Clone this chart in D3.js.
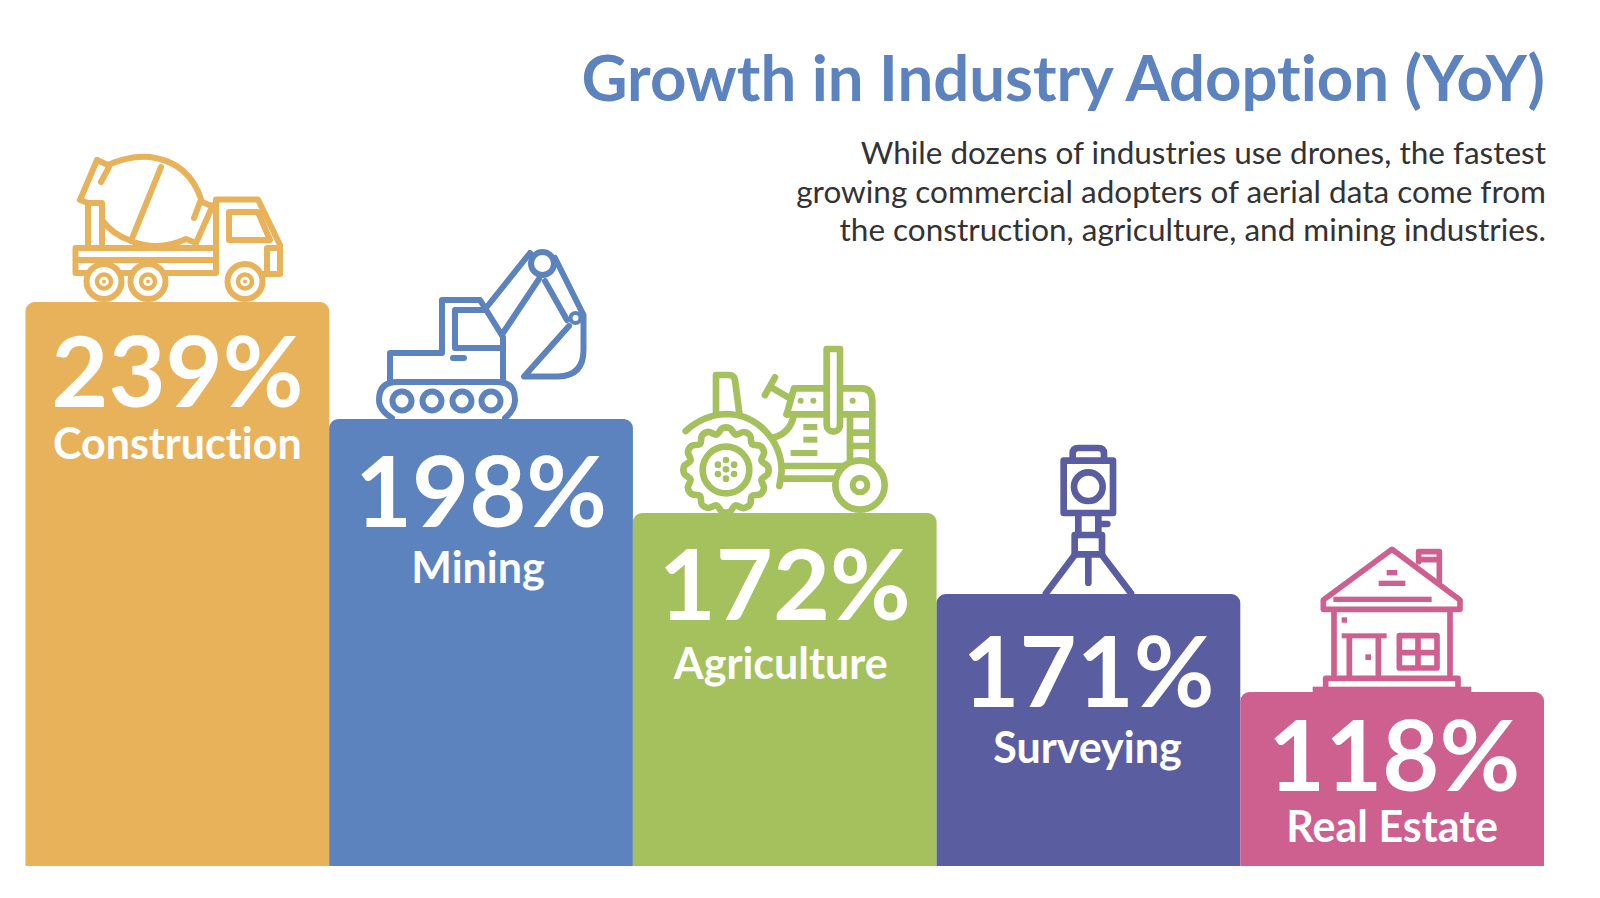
<!DOCTYPE html>
<html>
<head>
<meta charset="utf-8">
<script src="https://cdn.jsdelivr.net/npm/d3@7"></script>
<style>
  html, body { margin: 0; padding: 0; background: #fff; }
  svg { display: block; font-family: Lato, sans-serif; font-variant-ligatures: none; }
</style>
</head>
<body>
<svg id="chart" width="1600" height="898"></svg>
<script>
'use strict';

var categories = ['Construction', 'Mining', 'Agriculture', 'Surveying', 'Real Estate'];
var growth = [239, 198, 172, 171, 118];
var colors = ['#e8b25b', '#5c83bd', '#a4c15d', '#5a5ea0', '#ce6090'];
var titleText = 'Growth in Industry Adoption (YoY)';
var blurb = [
  'While dozens of industries use drones, the fastest',
  'growing commercial adopters of aerial data come from',
  'the construction, agriculture, and mining industries.'
];

var svg = d3.select('#chart');
var baseY = 866;

var x = d3.scaleBand().domain(categories).range([25.500, 1544]);

// the steps in the original are not proportional to the numbers, so the scale is piecewise
var y = d3.scaleLinear().domain(growth).range([302, 419, 513, 594, 692]);

// text offsets from each bar, as laid out in the original
var valueDrop = [105, 108, 107, 113, 99];
var labelDrop = [157, 164, 166, 169, 150];
var valueShift = [0, 0, 0, 0, 2];
var labelShift = [0, -3, -4, -1, 0];

function topRounded(x0, y0, w, h, r) {
  var p = d3.path();
  p.moveTo(x0, y0 + h);
  p.lineTo(x0, y0 + r);
  p.arcTo(x0, y0, x0 + r, y0, r);
  p.lineTo(x0 + w - r, y0);
  p.arcTo(x0 + w, y0, x0 + w, y0 + r, r);
  p.lineTo(x0 + w, y0 + h);
  p.closePath();
  return p.toString();
}

// icons: each one is drawn in its own units and hung off the top of its bar
var icons = {
  Construction: function(g) {
    g.attr('stroke-width', 6);
    line(g, 'M97 160 L108 165 Q130 155 150 157 Q190 162 202 202 L214 207');
    line(g, 'M97 160 L80 200 L88 203 L102 203 L102 220 Q112 234 131 241 Q158 252 186 239 L196 243 L213 205');
    line(g, 'M161 167 L131 241');
    line(g, 'M109 167 L101 182 M200 202 L194 218');
    line(g, 'M88 203 L88 247 M102 220 L102 247');
    line(g, 'M216 248 L75.500 248 L75.500 273 L216 273 M75.500 260 L216 260');
    line(g, 'M216 272 L216 199.500 L258 199.500 L280 245 L280 274 L262 274');
    line(g, 'M229 212 L258 212 L270 240 L229 240 Z');
    line(g, 'M280 248 L267 248 L267 272');
    [104, 148, 245].forEach(function(cx) {
      circle(g, cx, 281.500, 17.500, 6, '#fff');
      circle(g, cx, 281.500, 7, 4.500, '#fff');
      dot(g, cx, 281.500, 2);
    });
  },
  Mining: function(g) {
    g.attr('stroke-width', 6);
    line(g, 'M390 382 L390 353 L442 353 L442 300 L480 300 L503 337 L503 382');
    line(g, 'M503 348 L455 348 L455 310 L486 310');
    g.append('path').attr('d', 'M453 358 L464 358').attr('fill', 'none').attr('stroke-width', 6);
    line(g, 'M486 308 L530 253 M503 333 L539 279');
    line(g, 'M555 258 L583.500 315 L583.500 350 Q583.500 376 558 376.500 L524 376.500 L569 326');
    line(g, 'M545 281 L567 320');
    circle(g, 542.500, 263.500, 11.500, 6, '#fff');
    circle(g, 575.500, 318, 5, 4, '#fff');
    line(g, 'M392 418 Q379 410 379 400 Q379 382 397 382 L497 382 Q515 382 515 400 Q515 410 505 418');
    [402, 432, 462, 491].forEach(function(cx) { circle(g, cx, 401, 9.500, 6, '#fff'); });
  },
  Agriculture: function(g) {
    g.attr('stroke-width', 20);
    line(g, 'M228 250 L228 135 L268 135 Q282 135 285 150 L298 250');
    line(g, 'M137 303 Q190 255 258 252 C350 252 425 330 425 425 L418 468');
    line(g, 'M375 195 L405 142 M390 170 L450 205');
    line(g, 'M440 253 L462 175 L665 175 Q697 175 697 215 L697 395');
    line(g, 'M440 253 L697 253 M462 255 Q450 310 402 322');
    line(g, 'M630 255 L630 385 M632 308 L688 308 M632 348 L688 348');
    line(g, 'M430 408 L615 408 M430 446 L585 446');
    g.append('path').attr('fill', '#fff')
      .attr('d', 'M560 57 L600 57 L600 285 A20 20 0 0 1 560 285 Z').attr('stroke-linejoin', 'round');
    var vents = [[490, 282, 42], [490, 320, 42], [452, 360, 80]];
    vents.forEach(function(v) {
      g.append('rect').attr('x', v[0]).attr('y', v[1]).attr('width', v[2]).attr('height', 18)
        .attr('fill', 'currentColor').attr('stroke', 'none');
    });
    [[482, 212], [520, 212], [638, 212]].forEach(function(c) {
      dot(g, c[0], c[1], 9);
    });
    // tyre with lugs, 12 scallops round the hub
    var teeth = d3.range(36).map(function(i) {
      var k = i % 3;
      return [i * Math.PI * 2 / 36 + 0.09, k === 1 ? 110 : 126];
    });
    g.append('path')
      .attr('transform', 'translate(258,420)')
      .attr('fill', '#fff')
      .attr('d', d3.lineRadial().curve(d3.curveCatmullRomClosed.alpha(0.5))(teeth));
    circle(g, 258, 420, 70, 20, '#fff');
    dot(g, 258, 418, 10);
    d3.range(6).forEach(function(i) {
      var a = i * Math.PI / 3 + Math.PI / 2;
      dot(g, 258 + 28 * Math.cos(a), 418 + 28 * Math.sin(a), 10);
    });
    circle(g, 660, 465, 74, 20, '#fff');
    circle(g, 660, 465, 22, 18, '#fff');
  },
  Surveying: function(g) {
    g.attr('stroke-width', 20);
    line(g, 'M218 85 L218 70 Q218 54 235 54 L295 54 Q312 54 312 70 L312 85');
    line(g, 'M191 92 L339 92 L339 249 L191 249 Z');
    circle(g, 265, 170, 43, 20, 'none');
    line(g, 'M235 250 L235 315 M295 250 L295 315 M300 282 L322 282');
    line(g, 'M224 315 L306 315 L306 373 L224 373 Z');
    line(g, 'M224 375 L138 490 M306 375 L393 490 M265 375 L265 458');
  },
  'Real Estate': function(g) {
    g.attr('stroke-width', 17);
    line(g, 'M970 510 L1176 358 L1380 510 L1380 538 L970 538 Z');
    line(g, 'M1256 395 L1256 365 L1318 365 L1318 455 M1256 389 L1318 389');
    var solid = [
      [1000, 500, 295, 16], [1160, 420, 32, 16], [1136, 452, 80, 16], [1025, 562, 16, 16],
      [1025, 610, 135, 15], [1096, 673, 17, 17], [938, 770, 476, 16]
    ];
    solid.forEach(function(s) {
      g.append('rect').attr('x', s[0]).attr('y', s[1]).attr('width', s[2]).attr('height', s[3])
        .attr('fill', 'currentColor').attr('stroke', 'none');
    });
    line(g, 'M1002 545 L1002 745 M1350 545 L1350 745 M1048 625 L1048 745 M1135 625 L1135 745');
    line(g, 'M1198 617 L1311 617 L1311 714 L1198 714 Z M1254 617 L1254 714 M1198 668 L1311 668');
    line(g, 'M977 775 L977 745 L1374 745 L1374 775');
  }
};

// where each icon sketch sits: k is its scale, ox/oy the bar corner it was sketched against
var iconFit = {
  Construction: { ox: 25.500, oy: 302, k: 1, dx: 0, dy: 0 },
  Mining: { ox: 329.200, oy: 419, k: 1, dx: 0, dy: 0 },
  Agriculture: { ox: 632.900, oy: 513, k: 1 / 3, dx: 640, dy: 330 },
  Surveying: { ox: 936.600, oy: 594, k: 1 / 3, dx: 1000, dy: 430 },
  'Real Estate': { ox: 1240.300, oy: 692, k: 1 / 3, dx: 1000, dy: 430 }
};

function line(g, d) {
  return g.append('path').attr('d', d).attr('fill', 'none');
}
function circle(g, cx, cy, r, w, fill) {
  return g.append('circle').attr('cx', cx).attr('cy', cy).attr('r', r)
    .attr('stroke-width', w).attr('fill', fill);
}
function dot(g, cx, cy, r) {
  return g.append('circle').attr('cx', cx).attr('cy', cy).attr('r', r)
    .attr('stroke', 'none').attr('fill', 'currentColor');
}

var rows = categories.map(function(c, i) {
  return { name: c, value: growth[i], color: colors[i], i: i };
});

var bars = svg.selectAll('g.bar').data(rows).enter().append('g').attr('class', 'bar');

bars.append('path')
  .attr('fill', function(d) { return d.color; })
  .attr('d', function(d) {
    return topRounded(x(d.name), y(d.value), x.bandwidth(), baseY - y(d.value), 9);
  });

bars.append('text')
  .attr('x', function(d) { return x(d.name) + x.bandwidth() / 2 + valueShift[d.i]; })
  .attr('y', function(d) { return y(d.value) + valueDrop[d.i]; })
  .attr('text-anchor', 'middle')
  .attr('fill', '#fff')
  .attr('font-weight', 700)
  .attr('font-size', 98.500)
  .text(function(d) { return d.value + '%'; });

bars.append('text')
  .attr('x', function(d) { return x(d.name) + x.bandwidth() / 2 + labelShift[d.i]; })
  .attr('y', function(d) { return y(d.value) + labelDrop[d.i]; })
  .attr('text-anchor', 'middle')
  .attr('fill', '#fff')
  .attr('font-weight', 700)
  .attr('font-size', 43)
  .text(function(d) { return d.name; });

bars.append('g')
  .attr('class', 'icon')
  .attr('fill', 'none')
  .attr('stroke', 'currentColor')
  .attr('stroke-linecap', 'round')
  .attr('stroke-linejoin', 'round')
  .style('color', function(d) { return d.color; })
  .attr('transform', function(d) {
    var f = iconFit[d.name];
    return 'translate(' + (x(d.name) - f.ox + f.dx) + ',' + (y(d.value) - f.oy + f.dy) + ') scale(' + f.k + ')';
  })
  .each(function(d) { icons[d.name](d3.select(this)); });

svg.append('text')
  .attr('x', 1545)
  .attr('y', 101)
  .attr('text-anchor', 'end')
  .attr('fill', '#5c83bd')
  .attr('font-weight', 700)
  .attr('font-size', 63.500)
  .text(titleText);

svg.selectAll('text.blurb').data(blurb).enter().append('text')
  .attr('class', 'blurb')
  .attr('x', 1546)
  .attr('y', function(d, i) { return 164 + i * 38.500; })
  .attr('text-anchor', 'end')
  .attr('fill', '#333')
  .attr('font-weight', 400)
  .attr('font-size', 31.500)
  .text(function(d) { return d; });
</script>
</body>
</html>
